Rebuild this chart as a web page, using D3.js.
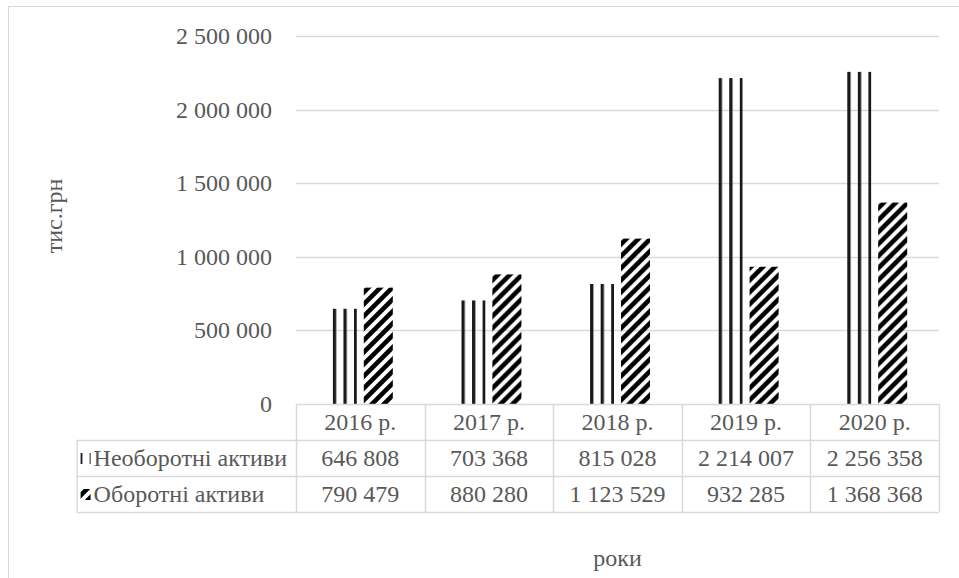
<!DOCTYPE html>
<html>
<head>
<meta charset="utf-8">
<script src="https://cdn.jsdelivr.net/npm/d3@7/dist/d3.min.js"></script>
<style>
  html, body { margin: 0; padding: 0; background: #fff; }
  text { font-family: "Liberation Serif", "DejaVu Serif", serif; fill: #595959; }
</style>
</head>
<body>
<div id="chart"></div>
<script>
// дані
var years = ["2016 р.", "2017 р.", "2018 р.", "2019 р.", "2020 р."];
var seriesNames = ["Необоротні активи", "Оборотні активи"];
var nonCurrent = [646808, 703368, 815028, 2214007, 2256358];
var current = [790479, 880280, 1123529, 932285, 1368368];
var yTicks = [0, 500000, 1000000, 1500000, 2000000, 2500000];

var W = 959, H = 578;
var plot = {left: 296, right: 939, top: 36, bottom: 404};
var rowH = 36;
var fontSize = 24;

var loc = d3.formatLocale({decimal: ",", thousands: "\u00a0", grouping: [3], currency: ["", ""]});
var fmt = loc.format(",d");

var svg = d3.select("#chart").append("svg")
    .attr("width", W).attr("height", H);

var x0 = d3.scaleBand().domain(years).range([plot.left, plot.right]).paddingInner(0).paddingOuter(0);
var x1 = d3.scaleBand().domain(seriesNames).range([0, x0.bandwidth()]).paddingInner(0.194).paddingOuter(0.883);
var y = d3.scaleLinear().domain([0, 2500000]).range([plot.bottom, plot.top]);

// візерунки
var defs = svg.append("defs");
var vp = defs.append("pattern")
    .attr("id", "patVert")
    .attr("patternUnits", "userSpaceOnUse")
    .attr("x", x0(years[0]) + x1(seriesNames[0]) + 4.5)
    .attr("y", 0)
    .attr("width", 10.55).attr("height", 10);
vp.append("rect").attr("x", 0).attr("y", 0).attr("width", 3.3).attr("height", 10).attr("fill", "#1a1a1a");

var dp = defs.append("pattern")
    .attr("id", "patDiag")
    .attr("patternUnits", "userSpaceOnUse")
    .attr("width", 12).attr("height", 12);
dp.append("path")
    .attr("d", "M-3,3 L3,-3 M0,12 L12,0 M9,15 L15,9")
    .attr("stroke", "#000").attr("stroke-width", 4.6);

var fills = ["url(#patVert)", "url(#patDiag)"];

// рамка
svg.append("rect")
    .attr("x", 8.5).attr("y", 6.5).attr("width", 1200).attr("height", 1200)
    .attr("fill", "none").attr("stroke", "#d9d9d9");

// сітка
svg.append("g").selectAll("line")
    .data(yTicks.filter(function(d){ return d > 0; }))
    .enter().append("line")
    .attr("x1", plot.left).attr("x2", plot.right)
    .attr("y1", function(d){ return Math.round(y(d)) + 0.5; })
    .attr("y2", function(d){ return Math.round(y(d)) + 0.5; })
    .attr("stroke", "#d9d9d9").attr("stroke-width", 1.3);

// підписи осі Y
svg.append("g").selectAll("text")
    .data(yTicks)
    .enter().append("text")
    .attr("x", 272)
    .attr("y", function(d){ return y(d) + 8; })
    .attr("text-anchor", "end")
    .style("font-size", fontSize + "px")
    .text(function(d){ return fmt(d); });

// стовпчики
var data = years.map(function(yr, i){ return {year: yr, vals: [nonCurrent[i], current[i]]}; });
var groups = svg.append("g").selectAll("g")
    .data(data).enter().append("g")
    .attr("transform", function(d){ return "translate(" + x0(d.year) + ",0)"; });
groups.selectAll("rect")
    .data(function(d){ return d.vals.map(function(v, j){ return {name: seriesNames[j], v: v, j: j}; }); })
    .enter().append("rect")
    .attr("x", function(d){ return x1(d.name); })
    .attr("width", x1.bandwidth())
    .attr("y", function(d){ return y(d.v); })
    .attr("height", function(d){ return y(0) - y(d.v); })
    .attr("fill", function(d){ return fills[d.j]; });

// таблиця даних
var tbl = svg.append("g");
var rows = [nonCurrent, current];

// підписи рядків (для ширини)
var labelRight = 287;
var labels = tbl.selectAll("text.rowlab")
    .data(seriesNames).enter().append("text")
    .attr("class", "rowlab")
    .style("font-size", fontSize + "px")
    .text(function(d){ return d; });
var maxW = d3.max(labels.nodes(), function(n){ return n.getComputedTextLength(); });
var labelLeft = labelRight - maxW;
labels.attr("x", labelLeft)
    .attr("y", function(d, i){ return plot.bottom + rowH * (i + 1) + 26; });

// ключі легенди
tbl.selectAll("rect.key")
    .data(seriesNames).enter().append("rect")
    .attr("class", "key")
    .attr("x", labelLeft - 13)
    .attr("y", function(d, i){ return plot.bottom + rowH * (i + 1) + 13; })
    .attr("width", 10).attr("height", 11)
    .attr("fill", function(d, i){ return fills[i]; });

var tableLeft = labelLeft - 17;
var lineCol = "#d9d9d9";
// горизонтальні лінії
tbl.append("line")
    .attr("x1", plot.left).attr("x2", plot.right)
    .attr("y1", plot.bottom + 0.5).attr("y2", plot.bottom + 0.5)
    .attr("stroke", lineCol).attr("stroke-width", 1.5);
[1, 2, 3].forEach(function(k){
  tbl.append("line")
    .attr("x1", tableLeft).attr("x2", plot.right)
    .attr("y1", plot.bottom + rowH * k + 0.5).attr("y2", plot.bottom + rowH * k + 0.5)
    .attr("stroke", lineCol).attr("stroke-width", 1.5);
});
// вертикальні лінії
var colEdges = years.map(function(d){ return x0(d); }).concat([plot.right]);
tbl.selectAll("line.v")
    .data(colEdges).enter().append("line")
    .attr("class", "v")
    .attr("x1", function(d){ return Math.round(d) + 0.5; })
    .attr("x2", function(d){ return Math.round(d) + 0.5; })
    .attr("y1", plot.bottom).attr("y2", plot.bottom + rowH * 3)
    .attr("stroke", lineCol).attr("stroke-width", 1.5);
tbl.append("line")
    .attr("x1", tableLeft + 0.5).attr("x2", tableLeft + 0.5)
    .attr("y1", plot.bottom + rowH).attr("y2", plot.bottom + rowH * 3)
    .attr("stroke", lineCol).attr("stroke-width", 1.5);

// заголовки років
tbl.selectAll("text.yr")
    .data(years).enter().append("text")
    .attr("class", "yr")
    .attr("x", function(d){ return x0(d) + x0.bandwidth() / 2; })
    .attr("y", plot.bottom + 26)
    .attr("text-anchor", "middle")
    .style("font-size", fontSize + "px")
    .text(function(d){ return d; });

// значення
rows.forEach(function(r, i){
  tbl.selectAll("text.v" + i)
    .data(r).enter().append("text")
    .attr("class", "v" + i)
    .attr("x", function(d, k){ return x0(years[k]) + x0.bandwidth() / 2; })
    .attr("y", plot.bottom + rowH * (i + 1) + 26)
    .attr("text-anchor", "middle")
    .style("font-size", fontSize + "px")
    .text(function(d){ return fmt(d); });
});

// назви осей
svg.append("text")
    .attr("transform", "translate(62,216) rotate(-90)")
    .attr("text-anchor", "middle")
    .style("font-size", fontSize + "px")
    .text("тис.грн");

svg.append("text")
    .attr("x", (plot.left + plot.right) / 2)
    .attr("y", 566)
    .attr("text-anchor", "middle")
    .style("font-size", fontSize + "px")
    .text("роки");
</script>
</body>
</html>
